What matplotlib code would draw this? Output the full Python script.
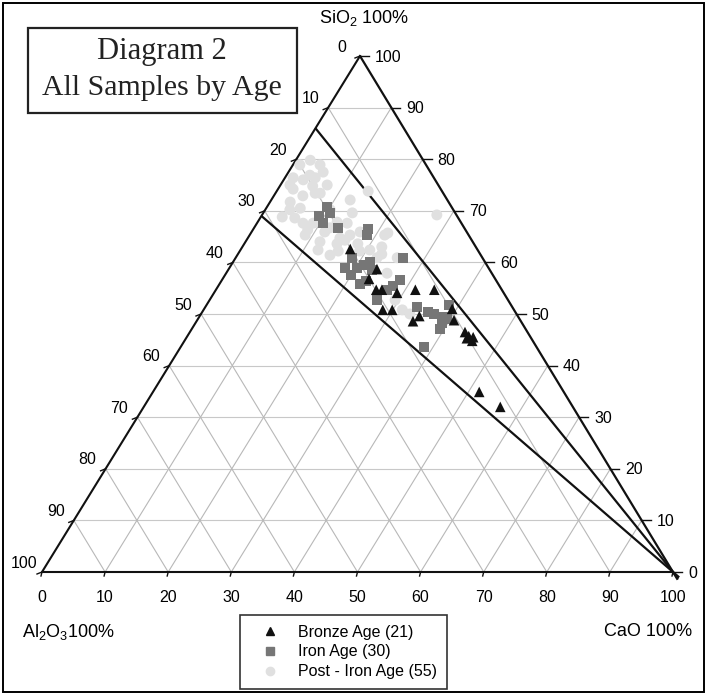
import matplotlib
matplotlib.use('Agg')
import matplotlib.pyplot as plt
from matplotlib.patches import Rectangle
from matplotlib.lines import Line2D
import numpy as np

plt.rcParams['font.family'] = ['Liberation Sans', 'DejaVu Sans']
plt.rcParams['mathtext.fontset'] = 'custom'
plt.rcParams['mathtext.rm'] = 'Liberation Sans'
plt.rcParams['mathtext.it'] = 'Liberation Sans:italic'

# composition of each sample, wt% (SiO2, CaO); Al2O3 is the remainder
bronze_sio2 = [62.6, 58.7, 56.8, 54.7, 54.7, 54.1, 54.7, 54.7, 50.8, 50.8, 49.6,
               48.6, 51.0, 48.8, 46.5, 45.7, 45.5, 44.8, 34.9, 32.0, 45.3]
bronze_cao = [17.3, 23.5, 23.2, 25.4, 26.3, 29.0, 31.6, 34.6, 28.4, 29.9, 34.8,
              34.3, 39.3, 40.7, 43.6, 44.6, 45.4, 45.6, 51.7, 56.5, 44.5]

iron_sio2 = [70.7, 69.0, 67.6, 66.7, 66.5, 65.3, 60.9, 58.9, 58.9, 59.5, 60.1,
             60.9, 55.8, 56.4, 54.7, 55.4, 56.6, 52.7, 51.4, 50.4, 51.7, 49.4,
             48.3, 47.1, 49.0, 43.6, 69.6, 58.5, 57.5, 50.0]
iron_cao = [9.5, 9.1, 10.5, 13.3, 18.1, 18.6, 18.4, 18.3, 20.2, 21.0, 21.7,
            26.5, 22.3, 22.9, 27.1, 27.7, 28.2, 26.5, 33.5, 35.8, 38.4, 38.7,
            39.0, 39.3, 39.5, 38.6, 10.6, 22.8, 20.0, 37.0]

post_sio2 = [78.9, 76.9, 76.4, 76.0, 74.8, 75.0, 74.2, 72.9, 73.4, 71.7,
             68.8, 68.6, 67.6, 67.6, 65.9, 67.8, 67.6, 65.3, 64.7, 64.0,
             63.6, 63.6, 69.6, 62.4, 62.2, 62.2, 73.8, 65.3, 63.0, 61.6,
             60.9, 50.8, 50.0, 65.7, 69.2, 60.9, 57.9, 66.7, 76.4, 70.5,
             66.3, 70.2, 73.4, 79.8, 75.0, 70.2, 64.3, 61.4, 72.1, 65.3,
             62.4, 52.7, 65.9, 77.5, 78.9]
post_cao = [4.3, 3.7, 1.3, 3.1, 5.2, 7.4, 2.4, 4.6, 7.1, 3.2,
            3.4, 5.5, 7.3, 8.9, 11.6, 12.6, 14.3, 15.9, 14.6, 11.8,
            14.7, 18.0, 14.1, 12.3, 15.6, 19.0, 14.5, 21.4, 22.1, 22.8,
            25.6, 31.5, 33.1, 21.7, 27.7, 22.4, 25.5, 12.0, 4.8, 5.4,
            8.7, 3.9, 6.3, 2.3, 1.5, 10.3, 15.6, 14.7, 12.5, 8.8,
            20.5, 29.4, 17.2, 5.5, 1.1]

# Al2O3 end of the two boundary lines running to the CaO corner
boundary_al2o3 = [14, 31]
ticks = list(range(0, 101, 10))

# corners of the diagram on the page (Al2O3, SiO2, CaO)
A = np.array([42.0, 572.0])
S = np.array([360.0, 56.0])
C = np.array([673.0, 572.0])


def tern(si, ca):
    si = np.asarray(si, float) / 100.0
    ca = np.asarray(ca, float) / 100.0
    al = 1.0 - si - ca
    x = al * A[0] + si * S[0] + ca * C[0]
    y = al * A[1] + si * S[1] + ca * C[1]
    return x, y


fig = plt.figure(figsize=(7.07, 6.95), dpi=100)
ax = fig.add_axes([0, 0, 1, 1])
ax.set_xlim(0, 707)
ax.set_ylim(695, 0)
ax.axis('off')

# page frame and title box
ax.add_patch(Rectangle((3, 3), 701, 689, fill=False, ec='black', lw=1.4))
ax.add_patch(Rectangle((28, 28), 269, 85, fill=False, ec='#222222', lw=1.6))
ax.text(162, 52, 'Diagram 2', family='Liberation Serif', fontsize=22,
        ha='center', va='center', color='#222222')
ax.text(162, 88, 'All Samples by Age', family='Liberation Serif', fontsize=21.5,
        ha='center', va='center', color='#222222')

# grid
for k in ticks[1:-1]:
    x, y = tern([k, k], [0, 100 - k])
    ax.plot(x, y, color='#c8c8c8', lw=0.8, zorder=1)
    x, y = tern([0, 100 - k], [k, k])
    ax.plot(x, y, color='#b8b8b8', lw=0.8, zorder=1)
    x, y = tern([0, 100 - k], [100 - k, 0])
    ax.plot(x, y, color='#b8b8b8', lw=0.8, zorder=1)

# triangle edges
x, y = tern([100, 0, 0], [0, 0, 100])
ax.plot(x, y, color='#111111', lw=1.5, zorder=2)

# lines fanning out of the CaO corner (incl. the SiO2-CaO edge)
for al in [0] + boundary_al2o3:
    x0, y0 = tern(100 - al, 0)
    x1, y1 = tern(0, 100)
    t = 1.015
    ax.plot([x0, x0 + (x1 - x0) * t], [y0, y0 + (y1 - y0) * t],
            color='#111111', lw=1.6, solid_capstyle='butt', zorder=2)

# axis ticks and labels
for k in ticks:
    # Al2O3 along the left edge
    x, y = tern(100 - k, 0)
    ax.plot([x - 5, x], [y + 2, y], color='#111111', lw=1.0)
    ax.text(x - 18, y - 9, str(k), fontsize=11.5, ha='center', va='center')
    # SiO2 along the right edge
    x, y = tern(k, 100 - k)
    ax.plot([x, x + 9], [y, y], color='#111111', lw=1.0)
    ax.text(x + 15, y + 1, str(k), fontsize=11.5, ha='left', va='center')
    # CaO along the base
    x, y = tern(0, k)
    ax.plot([x - 1, x], [y + 4, y], color='#111111', lw=1.0)
    ax.text(x, y + 25, str(k), fontsize=11.5, ha='center', va='center')

ax.text(364, 18, 'SiO$_2$ 100%', fontsize=13, ha='center', va='center')
ax.text(22, 632, 'Al$_2$O$_3$100%', fontsize=13, ha='left', va='center')
ax.text(692, 632, 'CaO 100%', fontsize=13, ha='right', va='center')

# samples
x, y = tern(post_sio2, post_cao)
ax.scatter(x, y, s=62, marker='o', color='#e0e0e0', edgecolors='none', zorder=3)
x, y = tern(iron_sio2, iron_cao)
ax.scatter(x, y, s=52, marker='s', color='#767676', edgecolors='none', zorder=4)
x, y = tern(bronze_sio2, bronze_cao)
ax.scatter(x, y, s=58, marker='^', color='#111111', edgecolors='none', zorder=5)

handles = [
    Line2D([], [], marker='^', ls='none', color='#111111', ms=6),
    Line2D([], [], marker='s', ls='none', color='#767676', ms=6),
    Line2D([], [], marker='o', ls='none', color='#e0e0e0', ms=6),
]
labels = [f'Bronze Age ({len(bronze_sio2)})', f'Iron Age ({len(iron_sio2)})',
          f'Post - Iron Age ({len(post_sio2)})']
leg = ax.legend(handles, labels, loc='upper left',
                bbox_to_anchor=(240 / 707, 1 - 615 / 695),
                bbox_transform=fig.transFigure, fancybox=False, framealpha=1,
                edgecolor='#333333', handlelength=2.6,
                handletextpad=0.45, borderpad=0.6, labelspacing=0.3,
                borderaxespad=0, prop={'size': 11.5})
leg.get_frame().set_linewidth(1.2)

fig.savefig('out.png', dpi=100)
